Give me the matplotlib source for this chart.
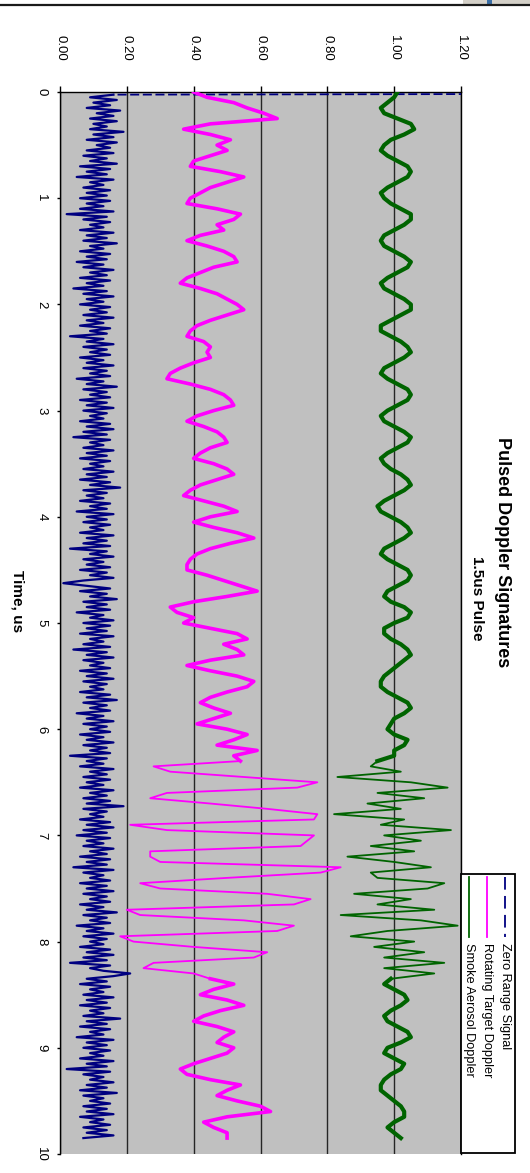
import numpy as np
import matplotlib
matplotlib.use("Agg")
import matplotlib.pyplot as plt
from matplotlib.patches import Rectangle
from matplotlib.lines import Line2D
from matplotlib.ticker import FormatStrFormatter

plt.rcParams['font.family'] = ['Liberation Sans', 'DejaVu Sans']

# ---------------- data ----------------
title = "Pulsed Doppler Signatures"
subtitle = "1.5us Pulse"
x_label = "Time, us"
series_names = ["Zero Range Signal", "Rotating Target Doppler", "Smoke Aerosol Doppler"]
value_ticks = [0.0, 0.2, 0.4, 0.6, 0.8, 1.0, 1.2]
time_ticks = [0, 1, 2, 3, 4, 5, 6, 7, 8, 9, 10]

# Smoke Aerosol Doppler, sampled every 0.05 us from 0 to 9.85 us
smoke = [
    1.01, 1.00, 0.98, 0.96, 0.97, 1.01, 1.05, 1.06, 1.03, 0.99,
    0.97, 0.96, 0.98, 1.01, 1.04, 1.05, 1.04, 1.01, 0.98, 0.96,
    0.97, 0.99, 1.02, 1.05, 1.05, 1.03, 1.00, 0.97, 0.96, 0.97,
    1.00, 1.03, 1.05, 1.04, 1.01, 0.98, 0.96, 0.97, 1.00, 1.03,
    1.05, 1.05, 1.02, 0.99, 0.96, 0.96, 0.99, 1.02, 1.04, 1.05,
    1.03, 1.00, 0.97, 0.96, 0.98, 1.01, 1.04, 1.05, 1.04, 1.01,
    0.98, 0.96, 0.97, 1.00, 1.03, 1.05, 1.04, 1.01, 0.98, 0.96,
    0.97, 0.99, 1.02, 1.04, 1.05, 1.03, 1.00, 0.97, 0.95, 0.96,
    0.99, 1.02, 1.04, 1.05, 1.03, 1.00, 0.97, 0.96, 0.98, 1.01,
    1.04, 1.05, 1.04, 1.01, 0.98, 0.97, 0.99, 1.03, 1.05, 1.04,
    1.00, 0.97, 0.97, 0.99, 1.02, 1.04, 1.05, 1.03, 1.01, 0.99,
    0.97, 0.96, 0.96, 0.98, 1.01, 1.04, 1.05, 1.03, 1.00, 0.99,
    0.98, 1.00, 1.04, 1.03, 1.00, 1.00, 0.95,
    0.93, 1.02, 0.83, 1.05, 1.16, 0.95, 1.09, 0.92, 1.02, 0.82,
    1.03, 0.96, 1.17, 0.97, 1.08, 0.93, 1.06, 0.86, 1.00, 1.11,
    0.93, 0.95, 1.15, 1.10, 0.88, 1.05, 0.95, 1.12, 0.84, 1.08,
    1.19, 0.98, 0.87, 1.06, 0.94, 1.09, 0.97, 1.15, 0.97, 1.12,
    0.99, 0.97, 1.00, 1.03, 1.04, 1.02, 0.99, 0.97, 0.98, 1.01,
    1.04, 1.05, 1.02, 0.98, 0.97, 1.00, 1.03, 1.02, 0.99, 0.97,
    0.96, 0.96, 0.98, 1.00, 1.02, 1.03, 1.03, 1.00, 0.98, 1.00,
    1.02,
]

# Rotating Target Doppler, sampled every 0.05 us from 0 to 9.85 us
rotating = [
    0.40, 0.44, 0.52, 0.56, 0.61, 0.65, 0.45, 0.37, 0.45, 0.51,
    0.47, 0.50, 0.45, 0.40, 0.39, 0.48, 0.55, 0.50, 0.45, 0.42,
    0.39, 0.38, 0.47, 0.54, 0.52, 0.47, 0.49, 0.42, 0.38, 0.44,
    0.49, 0.52, 0.53, 0.46, 0.42, 0.38, 0.36, 0.42, 0.47, 0.50,
    0.53, 0.55, 0.50, 0.45, 0.41, 0.39, 0.38, 0.43, 0.45, 0.44,
    0.45, 0.40, 0.36, 0.33, 0.32, 0.39, 0.45, 0.49, 0.51, 0.52,
    0.46, 0.41, 0.38, 0.43, 0.47, 0.49, 0.50, 0.45, 0.42, 0.40,
    0.46, 0.50, 0.52, 0.47, 0.42, 0.39, 0.37, 0.43, 0.49, 0.53,
    0.45, 0.40, 0.46, 0.53, 0.58, 0.51, 0.45, 0.41, 0.39, 0.38,
    0.38, 0.44, 0.49, 0.54, 0.59, 0.50, 0.40, 0.33, 0.35, 0.40,
    0.37, 0.45, 0.53, 0.56, 0.49, 0.53, 0.55, 0.45, 0.38, 0.45,
    0.53, 0.58, 0.56, 0.50, 0.45, 0.42, 0.46, 0.51, 0.46, 0.41,
    0.50, 0.56, 0.52, 0.47, 0.59, 0.52, 0.54,
    0.28, 0.33, 0.55, 0.77, 0.71, 0.32, 0.27, 0.45, 0.62, 0.77,
    0.76, 0.21, 0.32, 0.76, 0.74, 0.72, 0.27, 0.27, 0.30, 0.84,
    0.78, 0.50, 0.24, 0.30, 0.62, 0.75, 0.70, 0.20, 0.24, 0.55,
    0.70, 0.65, 0.18, 0.22, 0.40, 0.62, 0.58, 0.28, 0.25, 0.40,
    0.45, 0.52, 0.46, 0.42, 0.50, 0.55, 0.48, 0.43, 0.40, 0.47,
    0.52, 0.49, 0.47, 0.52, 0.50, 0.45, 0.40, 0.36, 0.38, 0.45,
    0.54, 0.50, 0.47, 0.53, 0.60, 0.63, 0.50, 0.43, 0.46, 0.50,
    0.50,
]

# Zero Range Signal, sampled every 0.025 us from 0 to 9.85 us (first sample is off scale)
zero_range = [
    5.00,
    0.16, 0.09, 0.17, 0.10, 0.15, 0.08, 0.18, 0.11, 0.16, 0.09, 0.17, 0.10, 0.14, 0.09, 0.19, 0.10, 0.16, 0.08, 0.17, 0.11,
    0.15, 0.08, 0.16, 0.07, 0.14, 0.09, 0.17, 0.06, 0.15, 0.08, 0.14, 0.05, 0.16, 0.09, 0.13, 0.07, 0.15, 0.08, 0.14, 0.06,
    0.15, 0.08, 0.13, 0.06, 0.16, 0.02, 0.14, 0.07, 0.15, 0.09, 0.13, 0.06, 0.16, 0.08, 0.14, 0.07, 0.17, 0.09, 0.13, 0.06,
    0.15, 0.08, 0.14, 0.05, 0.13, 0.07, 0.16, 0.09, 0.14, 0.06, 0.15, 0.08, 0.13, 0.04, 0.14, 0.07, 0.16, 0.08, 0.13, 0.06,
    0.15, 0.09, 0.14, 0.07, 0.16, 0.08, 0.13, 0.06, 0.15, 0.09, 0.14, 0.03, 0.13, 0.08, 0.16, 0.07, 0.14, 0.09, 0.15, 0.06,
    0.13, 0.08, 0.16, 0.07, 0.14, 0.09, 0.15, 0.05, 0.13, 0.08, 0.17, 0.07, 0.14, 0.09, 0.15, 0.06, 0.14, 0.08, 0.16, 0.07,
    0.14, 0.09, 0.13, 0.06, 0.15, 0.08, 0.16, 0.07, 0.14, 0.04, 0.15, 0.09, 0.13, 0.07, 0.16, 0.08, 0.14, 0.06, 0.15, 0.09,
    0.13, 0.07, 0.16, 0.08, 0.14, 0.06, 0.15, 0.09, 0.18, 0.07, 0.14, 0.08, 0.13, 0.06, 0.15, 0.09, 0.14, 0.05, 0.16, 0.08,
    0.14, 0.07, 0.15, 0.09, 0.13, 0.06, 0.16, 0.08, 0.14, 0.07, 0.15, 0.03, 0.14, 0.09, 0.16, 0.07, 0.13, 0.08, 0.15, 0.06,
    0.14, 0.09, 0.16, 0.07, 0.01, 0.08, 0.15, 0.06, 0.14, 0.09, 0.17, 0.07, 0.14, 0.08, 0.15, 0.05, 0.13, 0.09, 0.16, 0.07,
    0.15, 0.08, 0.14, 0.06, 0.16, 0.09, 0.13, 0.07, 0.15, 0.04, 0.14, 0.08, 0.16, 0.07, 0.13, 0.09, 0.15, 0.06, 0.14, 0.08,
    0.16, 0.07, 0.14, 0.09, 0.13, 0.06, 0.15, 0.08, 0.17, 0.07, 0.14, 0.09, 0.15, 0.05, 0.13, 0.08, 0.16, 0.07, 0.14, 0.09,
    0.15, 0.06, 0.13, 0.08, 0.16, 0.07, 0.14, 0.09, 0.15, 0.03, 0.14, 0.08, 0.13, 0.06, 0.16, 0.09, 0.14, 0.07, 0.15, 0.08,
    0.13, 0.06, 0.16, 0.09, 0.14, 0.07, 0.15, 0.08, 0.19, 0.07, 0.14, 0.09, 0.13, 0.06, 0.15, 0.08, 0.16, 0.07, 0.14, 0.05,
    0.15, 0.08, 0.13, 0.07, 0.16, 0.09, 0.14, 0.06, 0.15, 0.08, 0.14, 0.04, 0.16, 0.07, 0.13, 0.09, 0.15, 0.06, 0.14, 0.08,
    0.16, 0.07, 0.14, 0.09, 0.15, 0.06, 0.13, 0.08, 0.17, 0.07, 0.14, 0.09, 0.15, 0.05, 0.13, 0.08, 0.16, 0.07, 0.14, 0.09,
    0.13, 0.06, 0.15, 0.08, 0.16, 0.07, 0.14, 0.03, 0.15, 0.09, 0.13, 0.21, 0.16, 0.08, 0.14, 0.06, 0.15, 0.09, 0.13, 0.07,
    0.16, 0.08, 0.14, 0.06, 0.15, 0.09, 0.13, 0.07, 0.18, 0.08, 0.14, 0.06, 0.15, 0.09, 0.13, 0.05, 0.16, 0.08, 0.14, 0.07,
    0.15, 0.09, 0.13, 0.06, 0.16, 0.08, 0.14, 0.02, 0.15, 0.07, 0.13, 0.09, 0.16, 0.08, 0.14, 0.06, 0.17, 0.07, 0.13, 0.09,
    0.15, 0.07, 0.14, 0.08, 0.16, 0.06, 0.13, 0.09, 0.15, 0.07, 0.14, 0.08, 0.16, 0.07,
]

t_end = 9.85
t_smoke = np.linspace(0, t_end, len(smoke))
t_rot = np.linspace(0, t_end, len(rotating))
t_zero = np.linspace(0, t_end, len(zero_range))
burst_start, burst_end = 6.30, 8.35

# ---------------- figure ----------------
W, H = 530, 1173
fig = plt.figure(figsize=(W / 100, H / 100), dpi=100)
fig.patch.set_facecolor('white')

def fx(px):
    return px / W

def fy(py):
    return 1 - py / H

ax = fig.add_axes([fx(60), fy(1154), (461 - 60) / W, (1154 - 92) / H])
ax.set_facecolor('#C0C0C0')
ax.set_xlim(0, 1.2)
ax.set_ylim(10, 0)

navy, magenta, green = '#000080', '#FF00FF', '#006400'

# Zero range signal: off-scale first sample drawn dashed, the rest dense
z = np.asarray(zero_range)
ax.plot(z[:2], t_zero[:2], color=navy, lw=1.3, ls=(0, (5, 2)), zorder=3)
ax.plot(z[1:], t_zero[1:], color=navy, lw=1.6, zorder=3)

def segs(t):
    a = t <= burst_start + 1e-9
    b = (t >= burst_start - 1e-9) & (t <= burst_end + 1e-9)
    c = t >= burst_end - 1e-9
    return a, b, c

# Rotating target
r = np.asarray(rotating)
s1, s2, s3 = segs(t_rot)
ax.plot(r[s1], t_rot[s1], color=magenta, lw=2.6, zorder=4, solid_joinstyle='round')
ax.plot(r[s2], t_rot[s2], color=magenta, lw=1.3, zorder=4)
ax.plot(r[s3], t_rot[s3], color=magenta, lw=2.6, zorder=4, solid_joinstyle='round')

# Smoke aerosol
g = np.asarray(smoke)
g1, g2, g3 = segs(t_smoke)
ax.plot(g[g1], t_smoke[g1], color=green, lw=3.0, zorder=5, solid_joinstyle='round')
ax.plot(g[g2], t_smoke[g2], color=green, lw=1.3, zorder=5)
ax.plot(g[g3], t_smoke[g3], color=green, lw=3.0, zorder=5, solid_joinstyle='round')

# axes styling
ax.set_xticks(value_ticks)
ax.xaxis.set_major_formatter(FormatStrFormatter('%.2f'))
ax.set_yticks(time_ticks)
ax.grid(axis='x', color='#262626', lw=1.0, zorder=1)
ax.grid(axis='y', visible=False)
ax.set_axisbelow(True)
for side in ['left', 'top', 'right']:
    ax.spines[side].set_color('black')
    ax.spines[side].set_linewidth(1.0)
ax.spines['bottom'].set_visible(False)

ax.tick_params(axis='x', top=True, bottom=False, labeltop=True, labelbottom=False,
               direction='out', length=4.5, width=1, pad=18, labelsize=9.5,
               labelrotation=-90)
ax.tick_params(axis='y', left=True, direction='out', length=2.2, width=1, pad=7,
               labelsize=9.5, labelrotation=-90)
for lab in ax.get_yticklabels():
    lab.set_va('center')
    lab.set_ha('right')
for lab in ax.get_xticklabels():
    lab.set_ha('center')
    lab.set_va('bottom')

# titles
fig.text(fx(502), fy(552), title, rotation=-90, ha='center', va='center',
         fontsize=13, fontweight='bold')
fig.text(fx(477), fy(598), subtitle, rotation=-90, ha='center', va='center',
         fontsize=11, fontweight='bold')
fig.text(fx(17), fy(601), x_label, rotation=-90, ha='center', va='center',
         fontsize=11, fontweight='bold')

# legend (drawn rotated like the rest of the chart)
fig.add_artist(Rectangle((fx(461), fy(1153)), (515 - 461) / W, (1153 - 874) / H,
                         transform=fig.transFigure, facecolor='white',
                         edgecolor='black', lw=1.3, zorder=10))
leg_cols = [505, 487, 469]
leg_styles = [(navy, (0, (7, 3.5))), (magenta, '-'), (green, '-')]
for xpx, name, (col, ls) in zip(leg_cols, series_names, leg_styles):
    fig.add_artist(Line2D([fx(xpx), fx(xpx)], [fy(877), fy(937)], transform=fig.transFigure,
                          color=col, lw=1.3, ls=ls, zorder=11))
    fig.text(fx(xpx), fy(943), name, rotation=-90, ha='center', va='top',
             fontsize=9.2, zorder=11)

# window border seen at the top of the screenshot
fig.add_artist(Line2D([0, 1], [fy(5), fy(5)], transform=fig.transFigure,
                      color='#1a1a1a', lw=1.6))
fig.add_artist(Rectangle((fx(463), fy(4)), (530 - 463) / W, 4 / H,
                         transform=fig.transFigure, facecolor='#d4d0c8', lw=0))
fig.add_artist(Rectangle((fx(487), fy(4)), 5 / W, 4 / H,
                         transform=fig.transFigure, facecolor='#3a6ea5', lw=0))

fig.savefig('out.png', dpi=100, facecolor='white')
